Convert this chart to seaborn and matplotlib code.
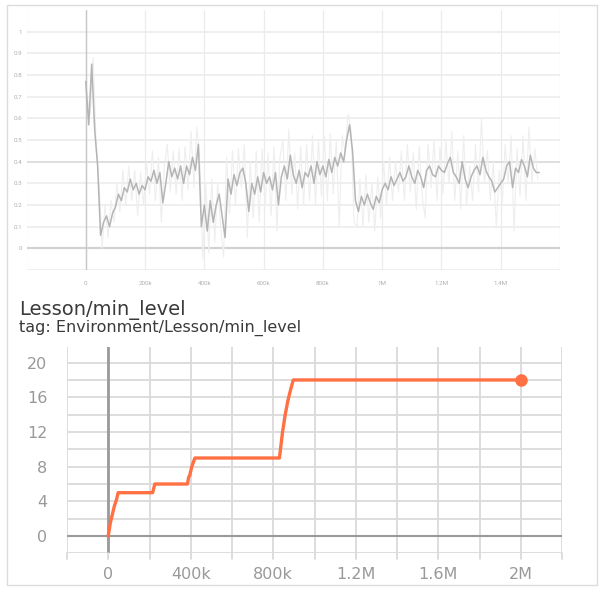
import numpy as np
import pandas as pd
import seaborn as sns
import matplotlib.pyplot as plt
from matplotlib.patches import Rectangle

# upper panel: training curve (steps in thousands)
top_step_k = list(range(0, 1540, 10))
top_smooth = [
    0.77, 0.57, 0.85, 0.55, 0.38, 0.06, 0.12, 0.15, 0.10, 0.16,
    0.19, 0.25, 0.22, 0.28, 0.26, 0.32, 0.27, 0.30, 0.25, 0.29,
    0.27, 0.33, 0.31, 0.36, 0.30, 0.35, 0.21, 0.30, 0.40, 0.33,
    0.37, 0.32, 0.38, 0.30, 0.38, 0.34, 0.42, 0.36, 0.48, 0.10,
    0.20, 0.08, 0.22, 0.12, 0.20, 0.25, 0.15, 0.05, 0.32, 0.25,
    0.34, 0.29, 0.35, 0.37, 0.30, 0.17, 0.30, 0.25, 0.33, 0.26,
    0.35, 0.30, 0.33, 0.27, 0.35, 0.20, 0.33, 0.38, 0.32, 0.43,
    0.34, 0.30, 0.36, 0.28, 0.35, 0.33, 0.38, 0.30, 0.40, 0.34,
    0.38, 0.33, 0.41, 0.35, 0.42, 0.38, 0.44, 0.40, 0.50, 0.57,
    0.45, 0.22, 0.17, 0.24, 0.20, 0.25, 0.21, 0.18, 0.24, 0.21,
    0.27, 0.30, 0.27, 0.33, 0.29, 0.32, 0.35, 0.31, 0.33, 0.38,
    0.33, 0.30, 0.36, 0.33, 0.28, 0.36, 0.38, 0.34, 0.33, 0.38,
    0.36, 0.35, 0.39, 0.42, 0.35, 0.33, 0.30, 0.40, 0.32, 0.28,
    0.33, 0.36, 0.38, 0.34, 0.42, 0.36, 0.33, 0.31, 0.26, 0.28,
    0.30, 0.32, 0.38, 0.40, 0.28, 0.37, 0.35, 0.41, 0.38, 0.33,
    0.43, 0.37, 0.35, 0.35,
]
raw_step_k = list(range(5, 1530, 10))
top_raw = [
    0.70, 0.62, 0.88, 0.48, 0.30, 0.00, 0.20, 0.05, 0.22, 0.12,
    0.30, 0.17, 0.36, 0.20, 0.38, 0.22, 0.36, 0.15, 0.35, 0.20,
    0.40, 0.25, 0.45, 0.22, 0.42, 0.12, 0.38, 0.48, 0.26, 0.45,
    0.25, 0.46, 0.22, 0.47, 0.27, 0.54, 0.28, 0.56, 0.40, -0.05,
    0.30, -0.02, 0.32, 0.03, 0.30, 0.10, -0.04, 0.42, 0.16, 0.45,
    0.20, 0.46, 0.28, 0.48, 0.05, 0.40, 0.14, 0.45, 0.12, 0.46,
    0.20, 0.44, 0.15, 0.47, 0.08, 0.42, 0.50, 0.22, 0.55, 0.25,
    0.44, 0.18, 0.47, 0.20, 0.48, 0.22, 0.52, 0.20, 0.50, 0.24,
    0.52, 0.22, 0.53, 0.25, 0.50, 0.10, 0.52, 0.45, 0.62, 0.55,
    0.12, 0.10, 0.32, 0.10, 0.34, 0.12, 0.30, 0.08, 0.33, 0.14,
    0.40, 0.20, 0.42, 0.22, 0.40, 0.26, 0.45, 0.22, 0.48, 0.26,
    0.44, 0.18, 0.47, 0.24, 0.14, 0.48, 0.28, 0.50, 0.22, 0.47,
    0.25, 0.50, 0.30, 0.54, 0.22, 0.45, 0.18, 0.52, 0.20, 0.38,
    0.22, 0.48, 0.26, 0.60, 0.30, 0.45, 0.22, 0.40, 0.10, 0.36,
    0.20, 0.48, 0.30, 0.52, 0.08, 0.46, 0.24, 0.52, 0.22, 0.56,
    0.30, 0.46, 0.32,
]
top_xticks = [0, 200e3, 400e3, 600e3, 800e3, 1e6, 1.2e6, 1.4e6]
top_xlabels = ['0', '200k', '400k', '600k', '800k', '1M', '1.2M', '1.4M']
top_yticks = [round(-0.1 + 0.1 * i, 1) for i in range(12)]
top_ylabels = [''] + ['0', '0.1', '0.2', '0.3', '0.4', '0.5', '0.6', '0.7', '0.8', '0.9', '1']

# lower panel: Lesson/min_level
lesson_step = [0, 10e3, 20e3, 30e3, 40e3, 48e3, 215e3, 226e3, 384e3, 390e3,
               395e3, 405e3, 420e3, 830e3, 845e3, 858e3, 870e3, 880e3, 897e3, 2.0e6]
lesson_level = [0, 1.5, 2.5, 3.5, 4.2, 5, 5, 6, 6, 6.8,
                7, 8, 9, 9, 12, 14, 15.5, 16.5, 18, 18]
bot_xticks = [0, 400e3, 800e3, 1.2e6, 1.6e6, 2.0e6]
bot_xlabels = ['0', '400k', '800k', '1.2M', '1.6M', '2M']
bot_yticks = [0, 4, 8, 12, 16, 20]

sns.set_style("white")
plt.rcParams['font.family'] = ['Roboto', 'DejaVu Sans']

W, H = 604, 592
fig = plt.figure(figsize=(W / 100, H / 100), dpi=100)


def frac(left, top, right, bottom):
    return [left / W, 1 - bottom / H, (right - left) / W, (bottom - top) / H]


fig.patches.append(Rectangle((7 / W, 1 - 585 / H), 590 / W, 580 / H,
                             transform=fig.transFigure, fill=False,
                             edgecolor='#dcdcdc', linewidth=1))

# ---- top chart
ax1 = fig.add_axes(frac(26.5, 10, 560, 270))
ax1.set_xlim(-200e3, 1.6e6)
ax1.set_ylim(-0.1, 1.1)
for v in np.arange(-200e3, 1.61e6, 200e3):
    ax1.axvline(v, color='#ececec', lw=0.9, zorder=0)
for v in top_yticks:
    ax1.axhline(v, color='#ececec', lw=1.2, zorder=0)
ax1.axhline(0, color='#d2d2d2', lw=1.6, zorder=0)
ax1.axhline(0.4, color='#dedede', lw=1.3, zorder=0)
ax1.axvline(0, color='#c8c8c8', lw=1.0, zorder=0)
raw_df = pd.DataFrame({'step': np.array(raw_step_k) * 1e3, 'value': top_raw})
sm_df = pd.DataFrame({'step': np.array(top_step_k) * 1e3, 'value': top_smooth})
sns.lineplot(data=raw_df, x='step', y='value', ax=ax1, color='#eeeeee', lw=0.8)
sns.lineplot(data=sm_df, x='step', y='value', ax=ax1, color='#b4b4b4', lw=1.1)
ax1.set_xticks(top_xticks)
ax1.set_xticklabels(top_xlabels)
ax1.set_yticks(top_yticks)
ax1.set_yticklabels(top_ylabels)
ax1.tick_params(labelsize=4.5, labelcolor='#b0b0b0', length=0, pad=3)
ax1.tick_params(axis='x', pad=8)
ax1.set_xlabel('')
ax1.set_ylabel('')
for s in ax1.spines.values():
    s.set_visible(False)

# ---- bottom chart
fig.text(19 / W, 1 - 315 / H, 'Lesson/min_level', fontsize=14, color='#3a3a3a',
         family='DejaVu Sans')
fig.text(19 / W, 1 - 332 / H, 'tag: Environment/Lesson/min_level', fontsize=11.5,
         color='#3a3a3a', family='DejaVu Sans')

ax2 = fig.add_axes(frac(67, 347, 562, 553.4))
ax2.set_xlim(-200e3, 2.2e6)
ax2.set_ylim(-2, 21.8)
for v in np.arange(-200e3, 2.21e6, 200e3):
    ax2.axvline(v, color='#dadada', lw=1.3, zorder=0)
    ax2.plot([v, v], [-2, -2.6], color='#dadada', lw=1.3, clip_on=False)
for v in range(-2, 21, 2):
    ax2.axhline(v, color='#dadada', lw=1.3, zorder=0)
ax2.axhline(0, color='#9a9a9a', lw=1.5, zorder=1)
ax2.axvline(0, color='#9a9a9a', lw=2.0, zorder=1)
lesson_df = pd.DataFrame({'step': lesson_step, 'level': lesson_level})
sns.lineplot(data=lesson_df, x='step', y='level', ax=ax2, color='#ff7043',
             lw=2.4, zorder=3)
ax2.plot(lesson_step[-1], lesson_level[-1], 'o', color='#ff7043', ms=8, zorder=4)
ax2.set_xticks(bot_xticks)
ax2.set_xticklabels(bot_xlabels)
ax2.set_yticks(bot_yticks)
ax2.tick_params(labelsize=11.5, labelcolor='#999999', length=0)
ax2.tick_params(axis='y', pad=14)
ax2.tick_params(axis='x', pad=10)
for lab in ax2.get_xticklabels() + ax2.get_yticklabels():
    lab.set_family('DejaVu Sans')
ax2.set_xlabel('')
ax2.set_ylabel('')
for s in ax2.spines.values():
    s.set_visible(False)

fig.savefig('out.png', dpi=100, facecolor='white')
